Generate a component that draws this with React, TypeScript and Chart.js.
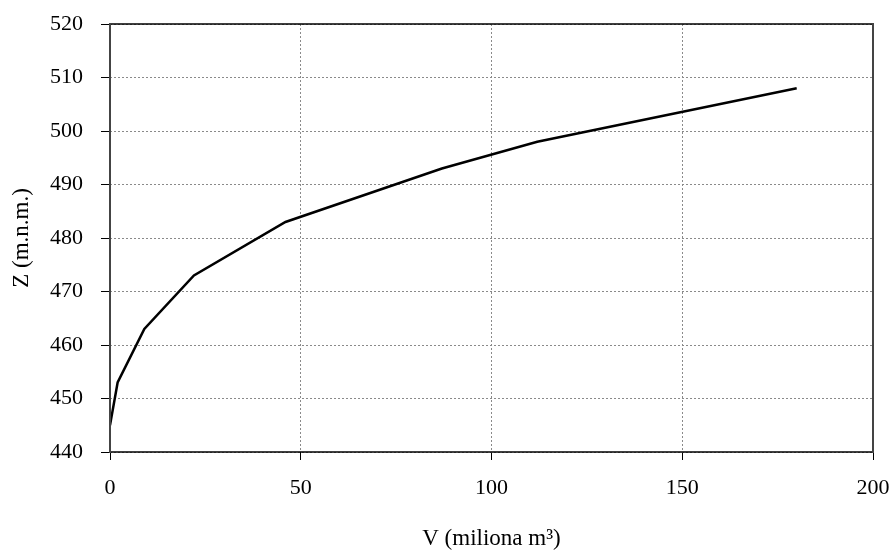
import React, { useEffect, useRef } from "react";
import { Chart, registerables } from "chart.js";

Chart.register(...registerables);

const volumes = [0, 2, 9, 22, 46, 87, 112, 180];
const elevations = [445, 453, 463, 473, 483, 493, 498, 508];
const xTitle = "V (miliona m³)";
const yTitle = "Z (m.n.m.)";

const FONT = "'Liberation Serif', 'Times New Roman', serif";

const frame = {
  id: "frame",
  afterDatasetsDraw(chart: any) {
    const { ctx, chartArea: a } = chart;
    ctx.save();
    ctx.lineCap = "square";
    ctx.strokeStyle = "#000";
    ctx.lineWidth = 1.5;
    ctx.beginPath();
    ctx.moveTo(a.left, a.top);
    ctx.lineTo(a.right, a.top);
    ctx.moveTo(a.left, a.bottom);
    ctx.lineTo(a.right, a.bottom);
    ctx.stroke();
    ctx.strokeStyle = "#444";
    ctx.lineWidth = 2;
    ctx.beginPath();
    ctx.moveTo(a.left, a.top);
    ctx.lineTo(a.left, a.bottom);
    ctx.moveTo(a.right, a.top);
    ctx.lineTo(a.right, a.bottom);
    ctx.stroke();
    ctx.restore();
  },
};

export default function App() {
  const ref = useRef<HTMLCanvasElement>(null);
  useEffect(() => {
    const chart = new Chart(ref.current!, {
      type: "line",
      data: {
        datasets: [
          {
            data: volumes.map((v, i) => ({ x: v, y: elevations[i] })),
            borderColor: "#000",
            borderWidth: 2.5,
            pointRadius: 0,
            tension: 0,
            fill: false,
          },
        ],
      },
      options: {
        animation: false,
        responsive: false,
        maintainAspectRatio: false,
        layout: { padding: { left: 0, top: 24, right: 22, bottom: 0 } },
        plugins: { legend: { display: false }, tooltip: { enabled: false } },
        scales: {
          x: {
            type: "linear",
            min: 0,
            max: 200,
            afterFit: (s: any) => {
              s.height = 104;
              s.paddingLeft = 0;
              s.paddingRight = 0;
            },
            ticks: {
              stepSize: 50,
              color: "#000",
              padding: 15,
              maxRotation: 0,
              font: { family: FONT, size: 22 },
            },
            grid: {
              color: "#8a8a8a",
              lineWidth: 1,
              tickLength: 8,
              tickColor: "#000",
              tickWidth: 1,
              tickBorderDash: [],
            },
            border: { display: false, dash: [2, 2] },
            title: {
              display: true,
              text: xTitle,
              color: "#000",
              font: { family: FONT, size: 23 },
              padding: { top: 0, bottom: 3 },
            },
          },
          y: {
            type: "linear",
            min: 440,
            max: 520,
            afterFit: (s: any) => {
              s.width = 110;
              s.paddingTop = 0;
              s.paddingBottom = 0;
            },
            ticks: {
              stepSize: 10,
              color: "#000",
              padding: 18,
              font: { family: FONT, size: 22 },
            },
            grid: {
              color: "#8a8a8a",
              lineWidth: 1,
              tickLength: 9,
              tickColor: "#000",
              tickWidth: 1,
              tickBorderDash: [],
            },
            border: { display: false, dash: [2, 2] },
            title: {
              display: true,
              text: yTitle,
              color: "#000",
              font: { family: FONT, size: 23 },
              padding: { top: 8, bottom: 0 },
            },
          },
        },
      },
      plugins: [frame],
    } as any);
    return () => chart.destroy();
  }, []);
  return (
    <div style={{ position: "absolute", left: 0, top: 0, width: 895, height: 556, background: "#fff" }}>
      <canvas ref={ref} width={895} height={556} style={{ width: 895, height: 556 }} />
    </div>
  );
}
